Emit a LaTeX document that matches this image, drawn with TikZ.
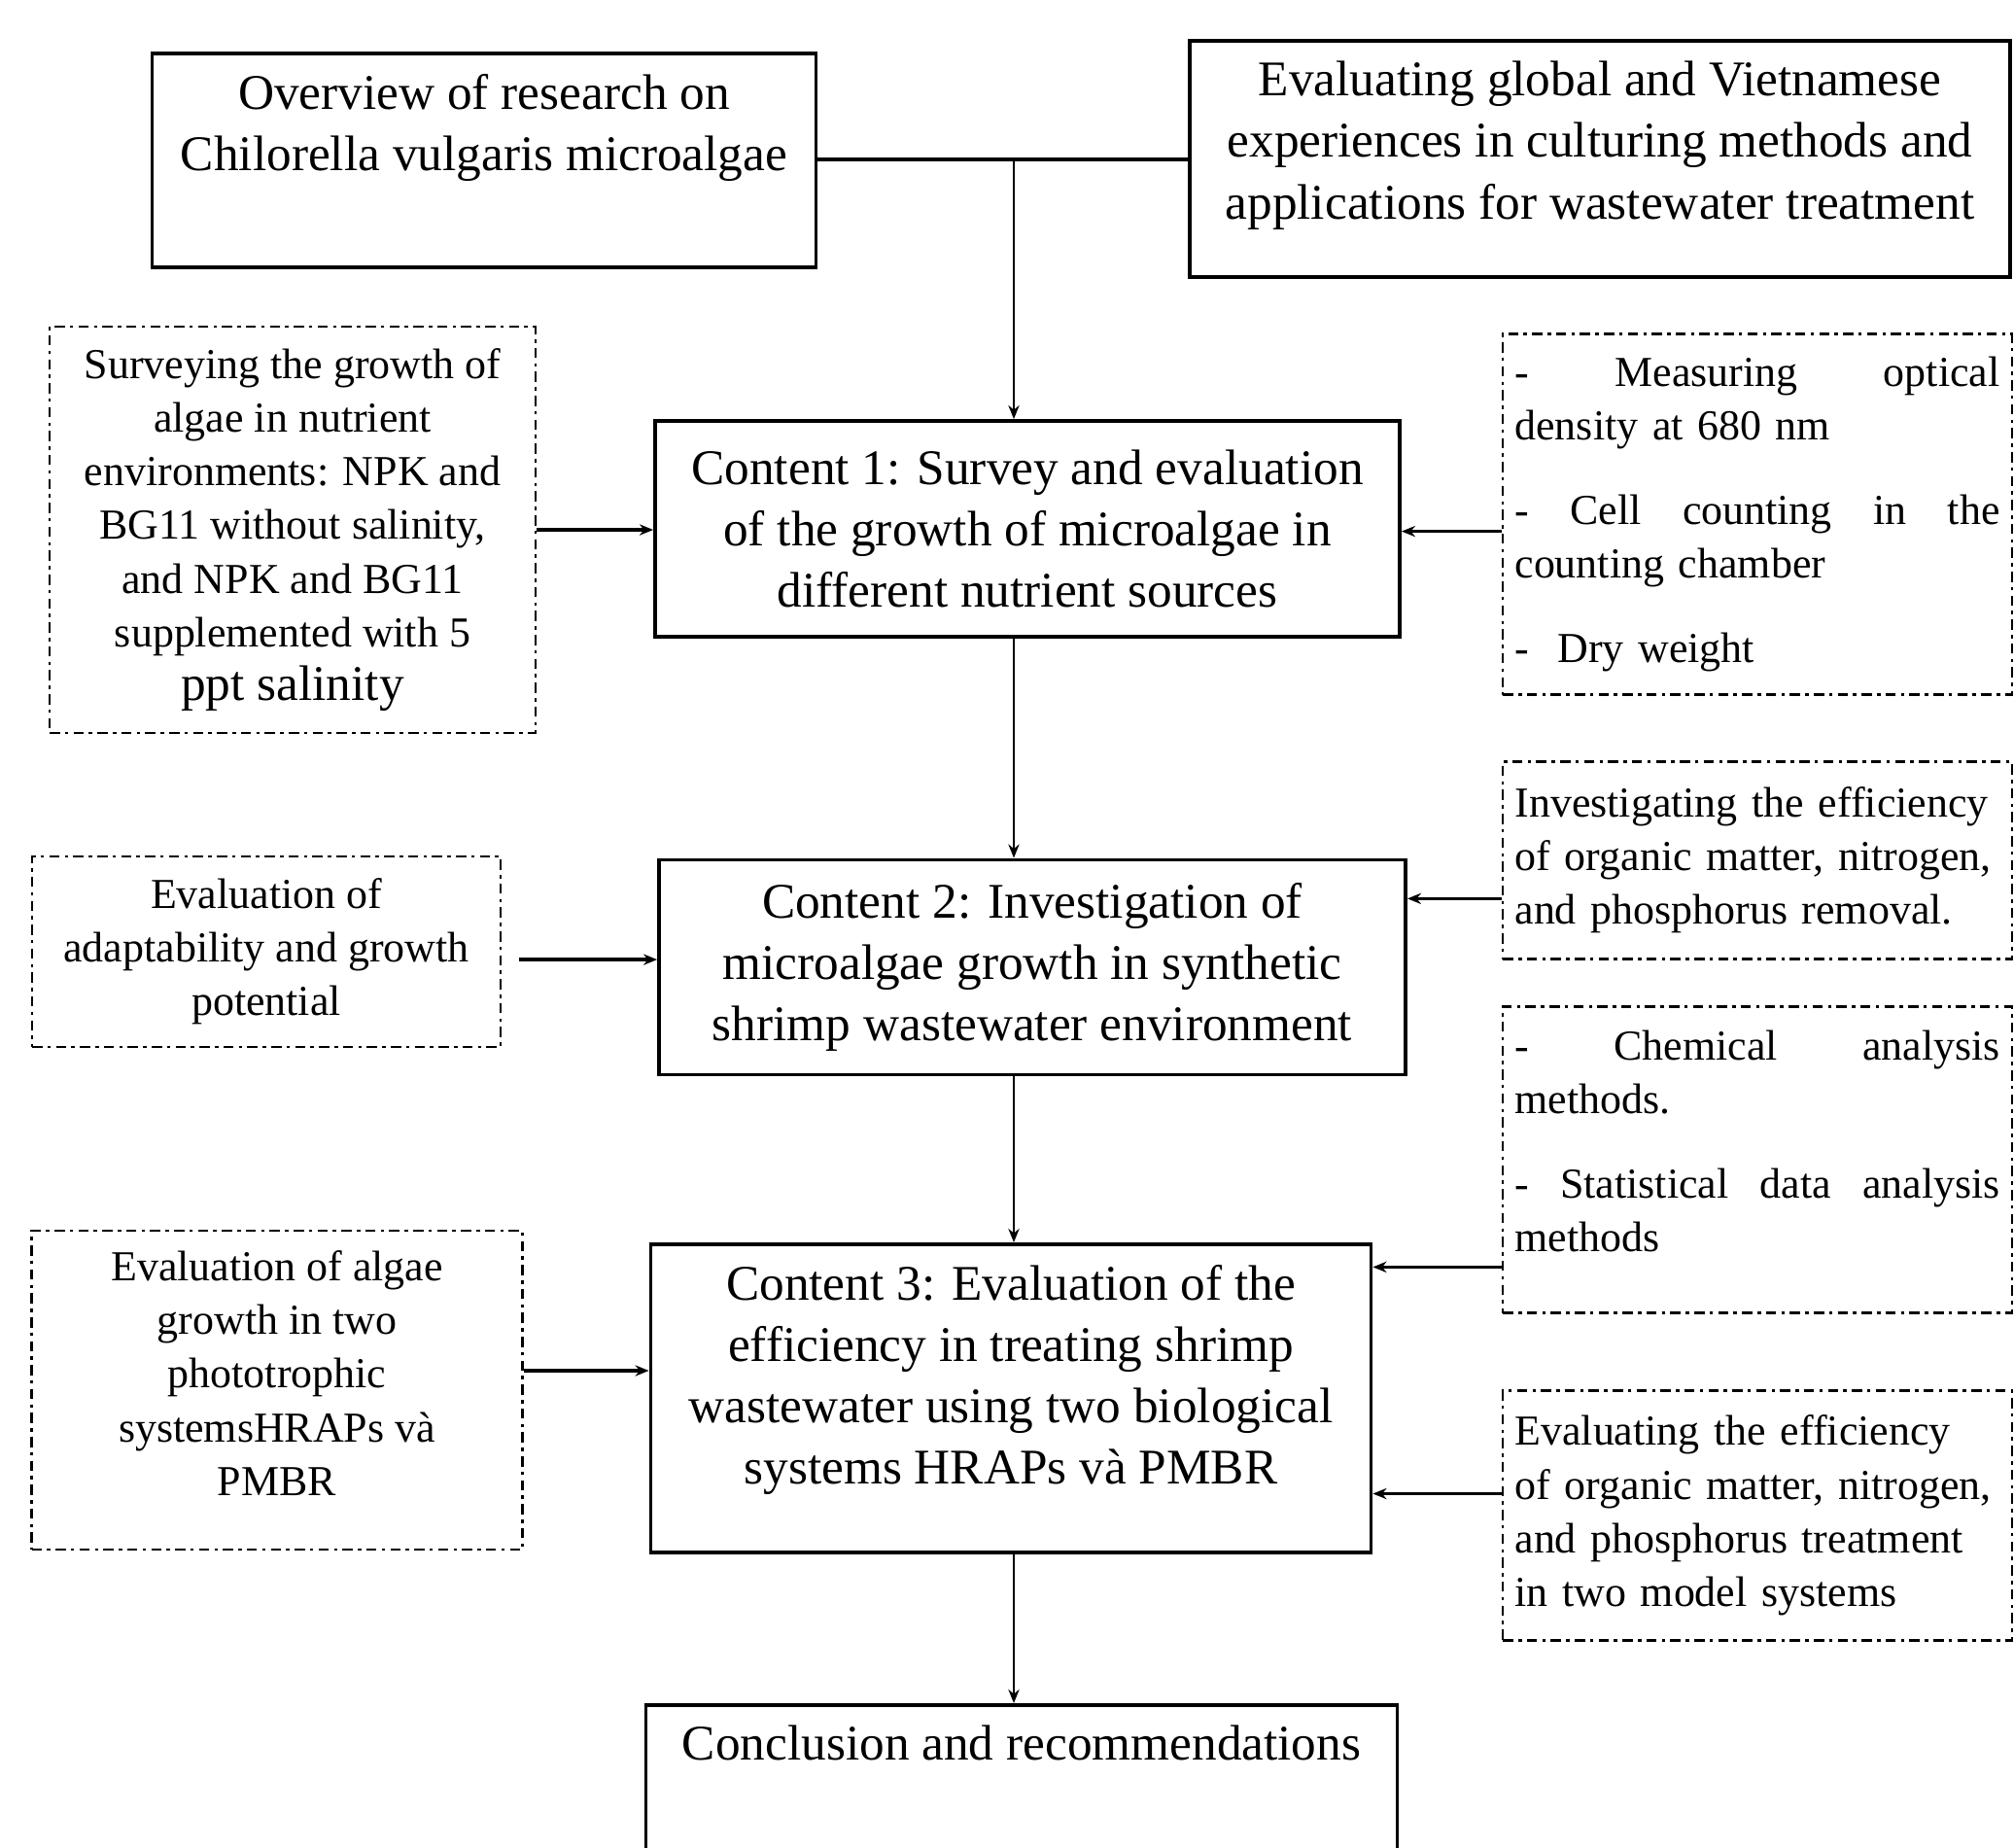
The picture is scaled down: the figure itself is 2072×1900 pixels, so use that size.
\documentclass[tikz,border=0pt]{standalone}
\usepackage{fontspec}
\setmainfont{Liberation Serif}
\usetikzlibrary{arrows.meta, positioning}
\newcommand{\bigtxt}{\fontsize{14.6pt}{18pt}\selectfont}
\newcommand{\smalltxt}{\fontsize{12.5pt}{15.7pt}\selectfont}

\begin{document}
\begin{tikzpicture}[x=0.1mm, y=-0.1mm,
  mainbox/.style={draw, line width=1.1pt, align=center, inner xsep=4pt, inner ysep=6pt, font=\bigtxt},
  sidebox/.style={draw, line width=0.6pt, dash pattern=on 3pt off 1.5pt on 1pt off 1.5pt, align=center, inner sep=4pt, font=\smalltxt},
  notebox/.style={sidebox, align=left, text width=142pt, inner xsep=3.5pt, minimum width=51.9mm},
  arr/.style={line width=0.7pt, -{Stealth[length=4pt, width=3.2pt]}},
  sidearr/.style={arr, line width=1pt}
]
\useasboundingbox (0,0) rectangle (2072,1900);

% top row
\node[mainbox, anchor=north, minimum width=68.3mm, text depth=22.3pt] (overview) at (498,53) {Overview of research on\\Chilorella vulgaris microalgae};
\node[mainbox, anchor=north, minimum width=84.4mm, text depth=11.1pt] (experience) at (1646,40) {Evaluating global and Vietnamese\\experiences in culturing methods and\\applications for wastewater treatment};

% main contents
\node[mainbox, minimum width=76.6mm, minimum height=22.2mm] (content1) at (1057,544) {Content 1: Survey and evaluation\\of the growth of microalgae in\\different nutrient sources};
\node[mainbox, minimum width=76.8mm, minimum height=22.1mm] (content2) at (1062,995) {Content 2: Investigation of\\microalgae growth in synthetic\\shrimp wastewater environment};
\node[mainbox, anchor=north, minimum width=74.1mm, text depth=13.9pt] (content3) at (1040,1278) {Content 3: Evaluation of the\\efficiency in treating shrimp\\wastewater using two biological\\systems HRAPs và PMBR};
\node[mainbox, anchor=north, minimum width=77.3mm, text depth=37pt] (conclusion) at (1051,1752) {Conclusion and recommendations};

% left side
\node[sidebox, minimum width=50mm, minimum height=41.8mm] (survey) at (301,545) {Surveying the growth of\\algae in nutrient\\environments: NPK and\\BG11 without salinity,\\and NPK and BG11\\supplemented with 5\\{\bigtxt ppt salinity}};
\node[sidebox, minimum width=48.2mm, minimum height=19.6mm] (adapt) at (274,979) {Evaluation of\\adaptability and growth\\potential};
\node[sidebox, minimum width=50.5mm, minimum height=32.8mm, text depth=10pt] (phototroph) at (285,1430) {Evaluation of algae\\growth in two\\phototrophic\\systemsHRAPs và\\PMBR};

% right side
\node[notebox, minimum height=37.1mm] (measure) at (1808,529) {-\hfill Measuring\hfill optical\\density at 680 nm\\[9pt]-\hfill Cell\hfill counting\hfill in\hfill the\\counting chamber\\[9pt]-\ \ Dry weight};
\node[notebox, minimum height=20.3mm] (removal) at (1808,885) {Investigating the efficiency\\of organic matter, nitrogen,\\and phosphorus removal.};
\node[notebox, minimum height=31.5mm, text depth=67pt] (methods) at (1808,1193) {-\hfill Chemical\hfill analysis\\methods.\\[9pt]-\hfill Statistical\hfill data\hfill analysis\\methods};
\node[notebox, minimum height=25.7mm] (treatment) at (1808,1559) {Evaluating the efficiency\\of organic matter, nitrogen,\\and phosphorus treatment\\in two model systems};

% connectors
\coordinate (split) at (1043,164);
\draw[line width=1pt] (overview.east |- split) -- (experience.west |- split);
\draw[arr] (split) -- (split |- content1.north);
\draw[arr] (content1.south -| split) -- (content2.north -| split);
\draw[arr] (content2.south -| split) -- (content3.north -| split);
\draw[arr] (content3.south -| split) -- (conclusion.north -| split);

\draw[sidearr] (survey.east) -- (survey.east -| content1.west);
\draw[sidearr] ([xshift=5pt, yshift=-2.3pt]adapt.east) -- ([yshift=-2.3pt]adapt.east -| content2.west);
\draw[sidearr] ([yshift=5.7pt]phototroph.east) -- ([yshift=5.7pt]phototroph.east -| content3.west);

\draw[sidearr] ([yshift=-5pt]measure.west) -- ([yshift=-5pt]measure.west -| content1.east);
\draw[sidearr] ([yshift=-11.2pt]removal.west) -- ([yshift=-11.2pt]removal.west -| content2.east);
\draw[sidearr] ([yshift=-31.4pt]methods.west) -- ([yshift=-31.4pt]methods.west -| content3.east);
\draw[sidearr] ([yshift=6.4pt]treatment.west) -- ([yshift=6.4pt]treatment.west -| content3.east);
\end{tikzpicture}
\end{document}
